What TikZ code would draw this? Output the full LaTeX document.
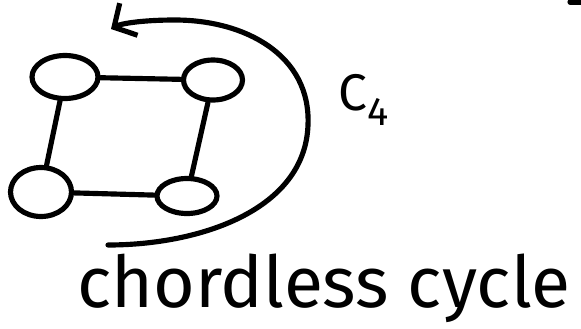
\documentclass[tikz,border=0pt]{standalone}
\usepackage{fontspec}
\setmainfont{Fira Sans}
\usepackage{tikz}
\usetikzlibrary{shapes.geometric, arrows.meta}

\begin{document}
\begin{tikzpicture}[
			x=0.03cm, y=-0.03cm,
			vertex/.style={ellipse, draw=black, line width=4.4pt, inner sep=0pt},
			edge/.style={line width=4.4pt, line cap=round},
			cyclearrow/.style={line width=4.4pt, line cap=round, -{Straight Barb[length=0.5cm, width=1.1cm, line width=4.4pt]}},
			label/.style={font=\fontsize{44}{50}\selectfont},
			caption/.style={font=\fontsize{61}{70}\selectfont}
			]
			\useasboundingbox (0,0) rectangle (581,328);
			
			\node[vertex, minimum width=1.98cm, minimum height=1.29cm] (tl) at (65,77) {};
			\node[vertex, minimum width=1.77cm, minimum height=1.2cm] (tr) at (213,80) {};
			\node[vertex, minimum width=1.83cm, minimum height=1.47cm] (bl) at (41,192) {};
			\node[vertex, minimum width=1.8cm, minimum height=1.05cm] (br) at (187,196) {};
			
			\draw[edge] (tl) -- (tr);
			\draw[edge] (tl) -- (bl);
			\draw[edge] (tr) -- (br);
			\draw[edge] (bl) -- (br);
			
			% arc round the cycle
			\coordinate (arcstart) at (108,245);
			\coordinate (arcend) at (111,29);
			\draw[cyclearrow] (arcstart) .. controls (200,245) and (305,210) .. (308,125)
				.. controls (311,55) and (245,20) .. (175,20) .. controls (140,20) and (120,24) .. (arcend);
			
			\node[label] (cfour) at (364,100) {C\raisebox{-0.3em}{\fontsize{34}{40}\selectfont 4}};
			\node[caption] (chordless) at (324,288) {chordless cycle};
			
			\draw[edge] (570,2) -- (581,2);
		\end{tikzpicture}
\end{document}
